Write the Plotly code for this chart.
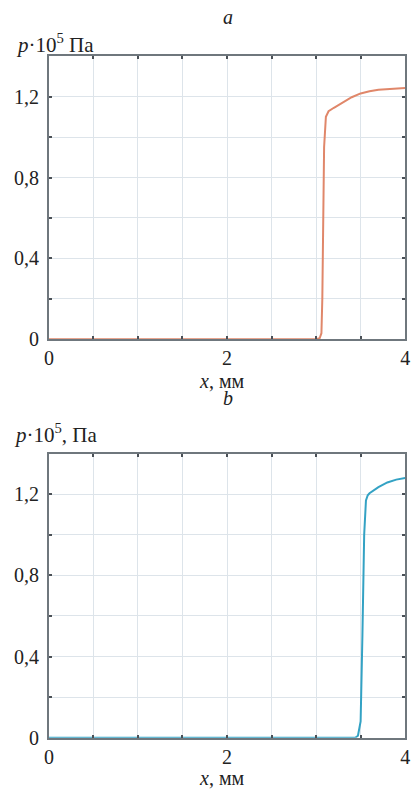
import plotly.graph_objects as go

# ---- data ----
xa = [0, 0.5, 1.0, 1.5, 2.0, 2.5, 3.0, 3.04, 3.06, 3.07, 3.08, 3.09, 3.11, 3.14, 3.2, 3.3, 3.4, 3.5, 3.6, 3.7, 3.8, 3.9, 4.0]
pa = [0, 0, 0, 0, 0, 0, 0, 0.005, 0.03, 0.2, 0.6, 0.95, 1.10, 1.128, 1.145, 1.172, 1.197, 1.216, 1.227, 1.234, 1.238, 1.241, 1.243]

xb = [0, 0.5, 1.0, 1.5, 2.0, 2.5, 3.0, 3.44, 3.47, 3.50, 3.52, 3.54, 3.56, 3.58, 3.6, 3.7, 3.8, 3.9, 4.0]
pb = [0, 0, 0, 0, 0, 0, 0, 0, 0.01, 0.08, 0.5, 1.0, 1.17, 1.195, 1.205, 1.235, 1.258, 1.272, 1.28]

xtick_vals = [0, 0.5, 1.0, 1.5, 2.0, 2.5, 3.0, 3.5, 4.0]
xtick_text = ["0", "", "", "", "2", "", "", "", "4"]
ytick_vals = [0, 0.2, 0.4, 0.6, 0.8, 1.0, 1.2, 1.4]
ytick_text = ["0", "", "0,4", "", "0,8", "", "1,2", ""]

W, H = 416, 799
FONT = "Liberation Serif"

def px_to_paper_y(py):
    return 1 - py / H

fig = go.Figure()
fig.add_trace(go.Scatter(x=xa, y=pa, mode="lines", line=dict(color="#E0876A", width=2),
                         xaxis="x", yaxis="y", showlegend=False))
fig.add_trace(go.Scatter(x=xb, y=pb, mode="lines", line=dict(color="#33A2C4", width=2),
                         xaxis="x2", yaxis="y2", showlegend=False))

xl, xr = 45 / W, 410 / W
dom_a = [px_to_paper_y(344), px_to_paper_y(57)]
dom_b = [px_to_paper_y(748), px_to_paper_y(460)]

axis_common = dict(showgrid=True, gridcolor="#DDE4EA", gridwidth=1,
                   showline=True, linecolor="#6F777D", linewidth=2, mirror="allticks",
                   ticks="inside", ticklen=3, tickcolor="#4A5056", tickwidth=2,
                   zeroline=False, tickfont=dict(family=FONT, size=20, color="#222"))

xax = dict(axis_common, range=[0, 4], tickvals=xtick_vals, ticktext=xtick_text, domain=[xl, xr])
yax = dict(axis_common, range=[0, 1.4], tickvals=ytick_vals, ticktext=ytick_text, ticklabelstandoff=4)

fig.update_layout(
    width=W, height=H, margin=dict(l=0, r=0, t=0, b=0),
    paper_bgcolor="white", plot_bgcolor="white",
    font=dict(family=FONT),
    xaxis=dict(xax, anchor="y"),
    yaxis=dict(yax, domain=dom_a, anchor="x"),
    xaxis2=dict(xax, anchor="y2"),
    yaxis2=dict(yax, domain=dom_b, anchor="x2"),
)

ann_font = dict(family=FONT, size=20, color="#222")
anns = [
    dict(text="<i>a</i>", x=228 / W, y=px_to_paper_y(17)),
    dict(text="<i>b</i>", x=228 / W, y=px_to_paper_y(404)),
    dict(text="<i>x</i>, мм", x=222 / W, y=px_to_paper_y(386)),
    dict(text="<i>x</i>, мм", x=222 / W, y=px_to_paper_y(789)),
]
for a in anns:
    fig.add_annotation(xref="paper", yref="paper", showarrow=False, font=ann_font,
                       xanchor="center", yanchor="middle", **a)
fig.add_annotation(xref="paper", yref="paper", showarrow=False, font=dict(ann_font, size=21),
                   text="<i>p</i>·10<sup>5</sup> Па", x=9 / W, y=px_to_paper_y(44),
                   xanchor="left", yanchor="middle")
fig.add_annotation(xref="paper", yref="paper", showarrow=False, font=dict(ann_font, size=21),
                   text="<i>p</i>·10<sup>5</sup>, Па", x=7 / W, y=px_to_paper_y(440),
                   xanchor="left", yanchor="middle")

fig.write_html("out.html")
